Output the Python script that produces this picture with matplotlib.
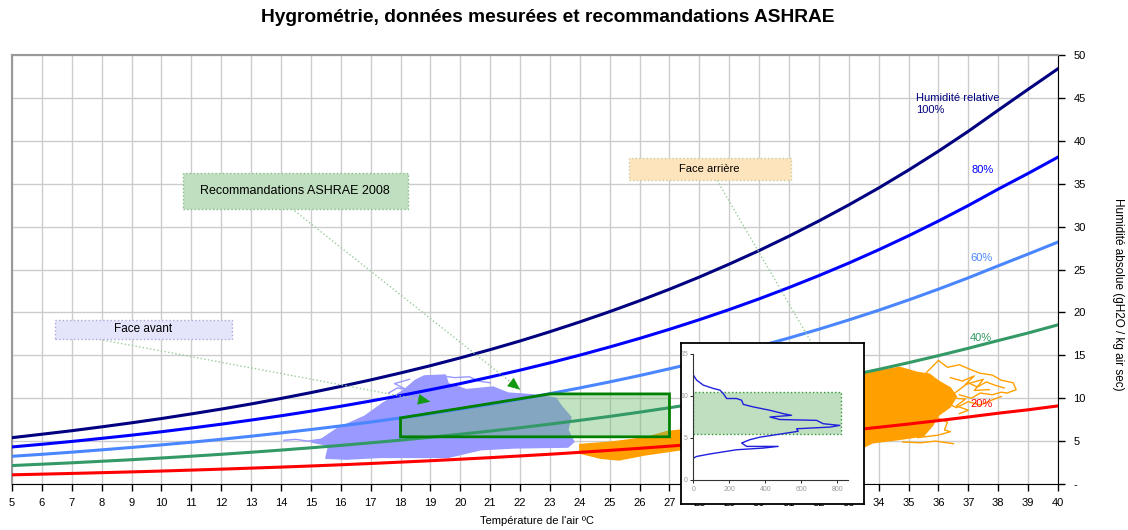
import matplotlib.pyplot as plt
from matplotlib.patches import Polygon, Rectangle

plt.rcParams['font.family'] = ['Liberation Sans', 'DejaVu Sans']

# temperature (°C) and absolute humidity (g/kg) read for each relative humidity curve
temp = list(range(5, 41))
rh100 = [5.40, 5.80, 6.21, 6.66, 7.13, 7.63, 8.17, 8.73, 9.33, 9.97, 10.65, 11.37, 12.13, 12.94,
         13.79, 14.70, 15.66, 16.67, 17.75, 18.89, 20.09, 21.36, 22.70, 24.12, 25.63, 27.21,
         28.89, 30.66, 32.53, 34.50, 36.59, 38.79, 41.11, 43.57, 46.00, 48.40]
rh80 = [4.32, 4.63, 4.96, 5.32, 5.69, 6.09, 6.52, 6.97, 7.45, 7.95, 8.49, 9.06, 9.67, 10.31,
        10.99, 11.70, 12.47, 13.27, 14.12, 15.02, 15.97, 16.97, 18.03, 19.15, 20.33, 21.58,
        22.90, 24.29, 25.75, 27.30, 28.93, 30.65, 32.46, 34.37, 36.20, 38.10]
rh60 = [3.23, 3.46, 3.71, 3.98, 4.26, 4.56, 4.87, 5.21, 5.57, 5.95, 6.35, 6.77, 7.22, 7.70,
        8.20, 8.74, 9.30, 9.90, 10.53, 11.20, 11.90, 12.64, 13.43, 14.25, 15.13, 16.05,
        17.02, 18.04, 19.12, 20.25, 21.45, 22.71, 24.03, 25.43, 26.80, 28.20]
rh40 = [2.15, 2.31, 2.47, 2.65, 2.83, 3.03, 3.24, 3.46, 3.70, 3.95, 4.22, 4.50, 4.80, 5.11,
        5.45, 5.80, 6.17, 6.56, 6.98, 7.42, 7.88, 8.37, 8.89, 9.43, 10.00, 10.61,
        11.24, 11.91, 12.62, 13.36, 14.14, 14.96, 15.82, 16.72, 17.60, 18.55]
rh20 = [1.07, 1.15, 1.23, 1.32, 1.41, 1.51, 1.62, 1.73, 1.85, 1.97, 2.10, 2.24, 2.39, 2.55,
        2.71, 2.89, 3.07, 3.27, 3.47, 3.69, 3.92, 4.16, 4.41, 4.68, 4.96, 5.26,
        5.57, 5.90, 6.24, 6.61, 6.99, 7.39, 7.81, 8.25, 8.65, 9.10]

avant_t = [15.3, 15.9, 16.8, 17.4, 18.1, 18.5, 18.8, 19.5, 19.6, 20.2, 21.1, 21.6, 22.4, 23.2,
           23.4, 23.7, 23.6, 23.8, 23.6, 21.8, 20.7, 20.2, 19.6, 17.3, 16.2, 15.5, 15.6, 15.0]
avant_h = [5.1, 6.5, 7.9, 9.4, 10.9, 12.1, 12.6, 12.7, 11.7, 11.0, 11.3, 10.6, 10.4, 10.0,
           9.0, 7.8, 6.3, 4.9, 4.3, 4.2, 4.0, 3.6, 3.1, 3.1, 2.9, 3.0, 4.5, 4.9]
avant_traces = [
    ([14.1, 14.5, 14.9, 15.3, 15.7], [5.1, 5.2, 5.0, 5.2, 5.4]),
    ([17.6, 17.9, 18.2, 17.8, 18.3], [10.6, 11.2, 11.0, 11.7, 12.2]),
    ([19.4, 19.8, 20.3, 20.6, 21.0], [12.6, 12.4, 12.5, 12.0, 11.8]),
]

arr_t = [24.0, 25.1, 26.2, 26.9, 27.4, 30.5, 33.6, 34.2, 34.7, 35.3, 35.7, 36.0, 36.4, 36.6,
         36.4, 36.0, 35.8, 35.5, 34.5, 33.8, 33.5, 30.0, 27.4, 26.2, 25.3, 24.7, 24.0]
arr_h = [4.6, 4.9, 5.4, 6.1, 6.3, 10.0, 12.9, 13.3, 13.6, 13.0, 12.8, 12.0, 11.2, 10.2,
         9.0, 8.0, 6.8, 5.6, 5.1, 4.8, 4.3, 3.8, 4.0, 3.4, 2.8, 3.0, 3.6]
arr_traces = [
    ([35.6, 36.0, 36.3, 36.7, 37.1, 37.4, 37.8, 38.1, 38.5, 38.6, 38.3, 38.1, 37.8, 37.4, 37.1, 36.7],
     [13.0, 14.4, 13.6, 13.9, 13.3, 12.9, 12.7, 12.1, 11.8, 11.0, 10.6, 10.7, 10.4, 10.6, 10.0, 10.4]),
    ([36.5, 36.7, 37.0, 37.3, 37.6, 37.9, 38.2], [10.5, 11.0, 11.8, 11.3, 11.9, 11.5, 11.2]),
    ([36.3, 36.6, 37.0, 37.4, 37.8, 38.1], [9.4, 8.9, 9.6, 9.2, 9.8, 10.2]),
    ([36.4, 36.8, 37.2, 36.9, 37.5, 37.2, 37.7], [12.4, 12.0, 12.6, 11.6, 12.2, 10.9, 11.0]),
    ([36.5, 36.9, 36.6, 37.0, 36.7], [10.0, 9.9, 9.1, 8.6, 8.2]),
    ([35.9, 36.3, 36.2, 36.4, 36.0, 35.3], [7.8, 7.2, 6.3, 6.1, 5.7, 5.4]),
    ([34.8, 35.4, 35.9, 36.5], [4.9, 4.8, 5.0, 4.7]),
]

# ASHRAE 2008 recommended envelope
ash_t = [18, 18, 23, 27, 27]
ash_h = [5.5, 7.7, 10.5, 10.5, 5.5]

# inset distribution (count vs absolute humidity)
dist_n = [0, 18, 55, 111, 148, 166, 185, 240, 268, 277, 333, 425, 499, 545, 425, 480, 684,
          721, 813, 758, 573, 582, 462, 370, 314, 268, 296, 471, 388, 240, 92, 18, 0]
dist_h = [12.5, 11.9, 11.3, 10.9, 10.7, 10.3, 9.7, 9.7, 9.5, 9.0, 8.7, 8.3, 7.9, 7.7, 7.5,
          7.2, 7.1, 6.7, 6.5, 6.3, 6.1, 5.8, 5.4, 5.1, 4.8, 4.4, 4.0, 4.0, 3.8, 3.6, 3.1, 2.8, 2.6]

W, H = 1128, 530
fig = plt.figure(figsize=(W / 100, H / 100), dpi=100)
ax = fig.add_axes([12 / W, 1 - 484 / H, 1046 / W, 429 / H])

ax.set_xlim(5, 40)
ax.set_ylim(0, 50)
ax.set_xticks(range(5, 41))
ax.set_yticks(range(0, 51, 5))
ax.set_yticklabels(['-'] + [str(v) for v in range(5, 51, 5)])
ax.yaxis.tick_right()
ax.grid(color='#cccccc', lw=1)
ax.set_axisbelow(True)
ax.tick_params(direction='out', length=5, labelsize=8, width=1)
ax.tick_params(axis='x', pad=5)
ax.tick_params(axis='y', pad=6)
for s in ['top', 'left']:
    ax.spines[s].set_color('#999999')
    ax.spines[s].set_linewidth(1.5)
for s in ['bottom', 'right']:
    ax.spines[s].set_color('black')

# clouds
ax.fill(avant_t, avant_h, color='#9999ff', lw=1, zorder=2)
for tt, hh in avant_traces:
    ax.plot(tt, hh, color='#9999ff', lw=1, zorder=2)
ax.fill(arr_t, arr_h, color='#ffa000', lw=1, zorder=2)
for tt, hh in arr_traces:
    ax.plot(tt, hh, color='#ffa000', lw=1, zorder=2)

# ASHRAE envelope fill
ax.add_patch(Polygon(list(zip(ash_t, ash_h)), closed=True, fc='#66bb66', alpha=0.4,
                     ec='none', zorder=3))

# RH curves
ax.plot(temp, rh100, color='#000080', lw=2.2, zorder=4)
ax.plot(temp, rh80, color='#0000ff', lw=2.2, zorder=4)
ax.plot(temp, rh60, color='#4a86ff', lw=2.2, zorder=4)
ax.plot(temp, rh40, color='#339966', lw=2.2, zorder=4)
ax.plot(temp, rh20, color='#ff0000', lw=2.2, zorder=4)

ax.add_patch(Polygon(list(zip(ash_t, ash_h)), closed=True, fc='none', ec='#008000',
                     lw=2, zorder=5))

ax.text(35.25, 44.3, 'Humidité relative\n100%', color='#000080', fontsize=8,
        ha='left', va='center', linespacing=1.3, zorder=6)
ax.text(37.12, 36.6, '80%', color='#0000ff', fontsize=8, va='center', zorder=6)
ax.text(37.06, 26.3, '60%', color='#4a86ff', fontsize=8, va='center', zorder=6)
ax.text(37.06, 17.0, '40%', color='#339966', fontsize=8, va='center', zorder=6)
ax.text(37.06, 9.3, '20%', color='#ff0000', fontsize=8, va='center', zorder=6)

# callout boxes with leader lines
def callout(x0, y0, x1, y1, text, fc, ec, size):
    ax.add_patch(Rectangle((x0, y0), x1 - x0, y1 - y0, fc=fc, ec=ec, ls=':', lw=1, zorder=6))
    ax.text((x0 + x1) / 2, (y0 + y1) / 2, text, ha='center', va='center', fontsize=size,
            zorder=7)

def leader(start, tip, head=True):
    ax.plot([start[0], tip[0]], [start[1], tip[1]], color='#99cc99', ls=':', lw=1, zorder=6)
    if head:
        back = (tip[0] - 0.03 * (tip[0] - start[0]), tip[1] - 0.03 * (tip[1] - start[1]))
        ax.annotate('', xy=tip, xytext=back, zorder=7,
                    arrowprops=dict(arrowstyle='-|>,head_length=0.8,head_width=0.35',
                                    color='#119911', lw=0.5, shrinkA=0, shrinkB=0))

leader((7.8, 16.94), (19.0, 9.6))
leader((14.36, 32.1), (22.0, 11.0))
leader((28.59, 35.4), (32.5, 12.0), head=False)
callout(6.44, 16.94, 12.36, 19.16, 'Face avant', '#e4e4fa', '#aaaadd', 8.5)
callout(10.72, 32.1, 18.24, 36.2, 'Recommandations ASHRAE 2008', '#c0dfc0', '#88bb88', 9)
callout(25.64, 35.4, 31.05, 37.97, 'Face arrière', '#fde4bc', '#cccc99', 8)

fig.text(548 / W, 1 - 18 / H, 'Hygrométrie, données mesurées et recommandations ASHRAE',
         ha='center', va='center', fontsize=13.8, fontweight='bold')
fig.text(537 / W, 1 - 521 / H, "Température de l'air ºC", ha='center', va='center',
         fontsize=8)
fig.text(1118 / W, 1 - 294 / H, 'Humidité absolue (gH2O / kg air sec)', ha='center',
         va='center', rotation=270, fontsize=8.5)

# inset
frame = fig.add_axes([680.7 / W, 1 - 504.3 / H, 183.6 / W, 161.6 / H], zorder=10)
frame.set_xticks([])
frame.set_yticks([])
frame.set_facecolor('white')
for s in frame.spines.values():
    s.set_color('black')
    s.set_linewidth(1.3)

ins = fig.add_axes([693.3 / W, 1 - 480 / H, 155 / W, 126 / H], zorder=11)
ins.patch.set_alpha(0)
ins.set_xlim(0, 860)
ins.set_ylim(0, 15)
ins.set_xticks([0, 200, 400, 600, 800])
ins.set_yticks([0, 5, 10, 15])
ins.tick_params(labelsize=5, labelcolor='#999999', length=2, width=0.6, pad=2)
for s in ['top', 'right']:
    ins.spines[s].set_visible(False)
for s in ['left', 'bottom']:
    ins.spines[s].set_color('#333333')
    ins.spines[s].set_linewidth(0.8)
ins.add_patch(Rectangle((0, 5.5), 817, 5.0, fc='#c0dfc0', ec='#339933', ls=':', lw=1))
ins.plot(dist_n, dist_h, color='#2020dd', lw=1)

fig.savefig('out.png', dpi=100)
